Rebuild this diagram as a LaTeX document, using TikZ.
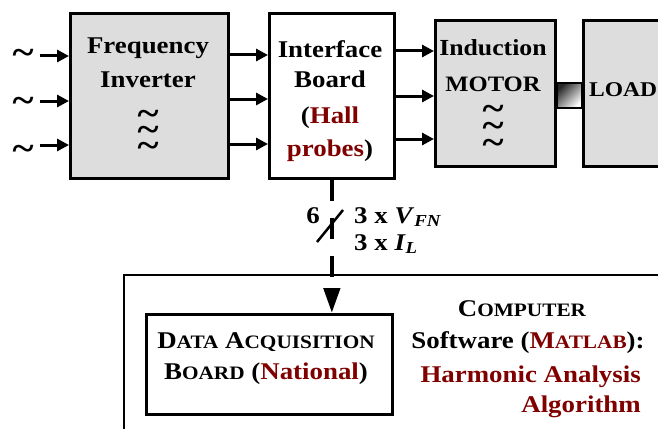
\documentclass[tikz,border=0pt]{standalone}
\usepackage{fontspec}
\setmainfont{Liberation Serif}[FakeStretch=1.12]
\usetikzlibrary{arrows.meta}
\definecolor{boxgray}{RGB}{221,221,221}
\definecolor{probered}{RGB}{128,0,0}
\newcommand{\smcap}[2]{#1{\fontsize{19}{20}\selectfont #2}}

\begin{document}
\begin{tikzpicture}[x=1pt,y=1pt,
    greybox/.style={draw=black, line width=2.7pt, fill=boxgray, anchor=north west},
    whitebox/.style={draw=black, line width=2.7pt, fill=white, anchor=north west},
    wave/.style={font=\fontsize{36}{30}\selectfont\bfseries, text height=14pt, text depth=-5pt, yshift=-5pt},
    feed/.style={line width=3pt, -{Triangle[length=12pt,width=12pt]}},
    bus/.style={line width=4.5pt, dash pattern=on 21pt off 17pt, -{Triangle[length=25pt,width=16pt]}}]
    \tikzstyle{every node}+=[inner sep=0pt, font=\fontsize{24}{28}\selectfont\bfseries]
    \useasboundingbox (0,0) rectangle (658,-428);
    \clip (0,0) rectangle (658,-428);
    % power side
    \node[greybox, minimum width=158, minimum height=165] (inv) at (69,-12) {};
    \node[whitebox, minimum width=125, minimum height=165] (ifb) at (268,-12) {};
    \node[greybox, minimum width=120, minimum height=146] (mot) at (434,-19) {};
    \node[greybox, minimum width=100, minimum height=146] (load) at (582,-19) {};
    \node[anchor=base] (invA) at (148,-53) {Frequency};
    \node[anchor=base] (invB) at (148,-88) {Inverter};
    \node[wave] (invW1) at (148,-113) {\textasciitilde};
    \node[wave] (invW2) at (148,-129) {\textasciitilde};
    \node[wave] (invW3) at (148,-145) {\textasciitilde};
    \node[anchor=base] (ifbA) at (330,-57) {Interface};
    \node[anchor=base] (ifbB) at (330,-88) {Board};
    \node[anchor=base] (ifbC) at (330,-123) {(\textcolor{probered}{Hall}};
    \node[anchor=base] (ifbD) at (330,-156) {\textcolor{probered}{probes})};
    \node[anchor=base] (motA) at (493,-56) {\fontsize{23}{28}\selectfont Induction};
    \node[anchor=base] (motB) at (493,-92) {\fontsize{22}{28}\selectfont MOTOR};
    \node[wave] (motW1) at (493,-108) {\textasciitilde};
    \node[wave] (motW2) at (493,-125) {\textasciitilde};
    \node[wave] (motW3) at (493,-142) {\textasciitilde};
    \node[anchor=base west] (loadA) at (589,-96) {\fontsize{21}{28}\selectfont LOAD};
    \node[wave] (ac1) at (23,-52) {\textasciitilde};
    \node[wave] (ac2) at (23,-100) {\textasciitilde};
    \node[wave] (ac3) at (23,-148) {\textasciitilde};
    \draw[feed] (ac1.east |- 0,-56) ++(6,0) -- (inv.west |- 0,-56);
    \draw[feed] (ac2.east |- 0,-101) ++(6,0) -- (inv.west |- 0,-101);
    \draw[feed] (ac3.east |- 0,-145) ++(6,0) -- (inv.west |- 0,-145);
    \draw[feed] (inv.east |- 0,-55) -- (ifb.west |- 0,-55);
    \draw[feed] (inv.east |- 0,-99) -- (ifb.west |- 0,-99);
    \draw[feed] (inv.east |- 0,-144) -- (ifb.west |- 0,-144);
    \draw[feed] (ifb.east |- 0,-51) -- (mot.west |- 0,-51);
    \draw[feed] (ifb.east |- 0,-96) -- (mot.west |- 0,-96);
    \draw[feed] (ifb.east |- 0,-139) -- (mot.west |- 0,-139);
    % shaft
    \shade[top color=black!85, bottom color=white, shading angle=45] (mot.east |- 0,-83) rectangle (load.west |- 0,-108);
    \draw[line width=2.5pt] (mot.east |- 0,-83) rectangle (load.west |- 0,-108);
    % computer side
    \node[whitebox, line width=2.2pt, minimum width=600, minimum height=200] (pc) at (123,-274) {};
    \node[whitebox, line width=2.5pt, minimum width=246, minimum height=100] (daq) at (145,-313) {};
    \node[anchor=base] (daqA) at (266,-348) {\smcap{D}{ATA} \smcap{A}{CQUISITION}};
    \node[anchor=base] (daqB) at (266,-379) {\smcap{B}{OARD} (\textcolor{probered}{National})};
    \node[anchor=base] (pcA) at (522,-316) {\smcap{C}{OMPUTER}};
    \node[anchor=base] (pcB) at (528,-348) {Software (\textcolor{probered}{\smcap{M}{ATLAB}}):};
    \node[anchor=base east, text=probered] (pcC) at (641,-382) {Harmonic Analysis};
    \node[anchor=base east, text=probered] (pcD) at (641,-412) {Algorithm};
    % measurement bus
    \draw[bus] (ifb.south) -- (ifb.south |- daq.north);
    \coordinate (cut) at (330,-226);
    \draw[line width=2.5pt] ([shift={(-13,-16)}]cut) -- ([shift={(13,16)}]cut);
    \node[anchor=base east] (six) at (320,-223) {6};
    \node[anchor=base west] (vfn) at (354,-223) {3 x \textit{V}\textsubscript{\textit{FN}}};
    \node[anchor=base west] (il) at (354,-250) {3 x \textit{I}\textsubscript{\textit{L}}};
\end{tikzpicture}
\end{document}
